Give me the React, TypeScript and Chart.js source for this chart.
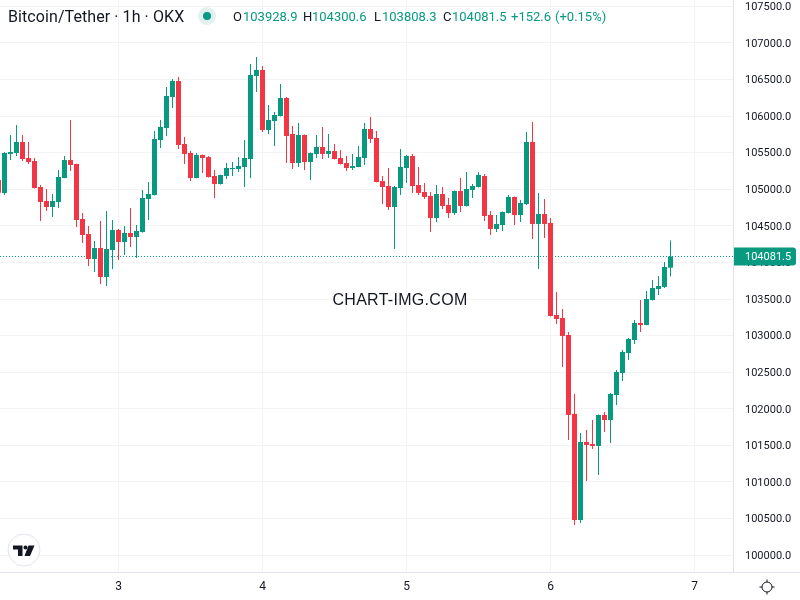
import React, { useEffect, useRef } from 'react';
import { Chart, registerables } from 'chart.js';

Chart.register(...registerables);

// hours since the start of day 3
const hours = [
  -20, -19, -18, -17, -16, -15, -14, -13, -12, -11, -10, -9, -8, -7, -6, -5, -4, -3, -2, -1,
  0, 1, 2, 3, 4, 5, 6, 7, 8, 9, 10, 11, 12, 13, 14, 15, 16, 17, 18, 19, 20, 21, 22, 23,
  24, 25, 26, 27, 28, 29, 30, 31, 32, 33, 34, 35, 36, 37, 38, 39, 40, 41, 42, 43, 44, 45, 46, 47,
  48, 49, 50, 51, 52, 53, 54, 55, 56, 57, 58, 59, 60, 61, 62, 63, 64, 65, 66, 67, 68, 69, 70, 71,
  72, 73, 74, 75, 76, 77, 78, 79, 80, 81, 82, 83, 84, 85, 86, 87, 88, 89, 90, 91, 92,
];

const opens = [
  105127, 104949, 105483, 105496, 105647, 105428, 105387, 105031, 104840, 104758, 104826, 105154, 105400, 105346, 104594, 104389, 104047, 104197, 103801, 104170,
  104443, 104279, 104403, 104348, 104416, 104867, 104922, 105674, 105838, 106262, 106480, 105619, 105496, 105154, 105469, 105441, 105182, 105072, 105182, 105277, 105277, 105305, 105414, 106549,
  106631, 105811, 105934, 106002, 106248, 105756, 105359, 105742, 105373, 105483, 105578, 105483, 105524, 105428, 105359, 105291, 105305, 105428, 105824, 105701, 105113, 105045, 104758, 105018,
  105291, 105455, 105059, 104963, 104909, 104608, 104936, 104786, 104676, 104977, 104772, 104991, 105032, 105182, 104649, 104457, 104512, 104676, 104895, 104649, 104799, 105647, 104526, 104662,
  104539, 103282, 103241, 103009, 101929, 100479, 101546, 101518, 101491, 101915, 101846, 102188, 102489, 102762, 102940, 103173, 103145, 103487, 103637, 103665, 103928.9,
];

const highs = [
  105150, 105510, 105742, 105879, 105742, 105647, 105428, 105059, 105004, 104936, 105264, 105455, 105947, 105350, 104676, 104498, 104293, 104567, 104703, 104580,
  104457, 104498, 104744, 104512, 104990, 105100, 105797, 105947, 106398, 106508, 106535, 105715, 105524, 105496, 105475, 105455, 105264, 105200, 105359, 105373, 105441, 105674, 106713, 106809,
  106686, 106152, 106057, 106439, 106262, 105865, 105906, 105748, 105502, 105742, 105852, 105756, 105619, 105537, 105455, 105483, 105592, 105906, 105988, 105797, 105182, 105291, 105045, 105551,
  105469, 105483, 105305, 105086, 104963, 105059, 105032, 104881, 104985, 105155, 105237, 105073, 105237, 105209, 104703, 104649, 104695, 104922, 104900, 104854, 105784, 105920, 104950, 104868,
  104608, 103596, 103364, 103050, 102202, 101669, 101710, 101846, 101920, 101956, 102216, 102530, 102803, 102968, 103214, 103487, 103610, 103760, 103815, 104007, 104300.6,
];

const lows = [
  104936, 104922, 105400, 105455, 105387, 105346, 105010, 104567, 104703, 104621, 104744, 105150, 105250, 104485, 104266, 103951, 103869, 103705, 103678, 103910,
  104033, 104102, 104211, 104061, 104410, 104580, 104915, 105565, 105729, 106111, 105551, 105346, 105113, 105150, 105223, 105160, 104881, 105065, 105141, 105182, 105236, 105031, 105154, 106330,
  105783, 105756, 105592, 105995, 105359, 105277, 105305, 105264, 105127, 105428, 105414, 105428, 105408, 105340, 105250, 105264, 105300, 105332, 105633, 105095, 104799, 104717, 104184, 104922,
  105086, 104950, 104922, 104868, 104416, 104553, 104731, 104608, 104649, 104690, 104765, 104881, 105025, 104567, 104375, 104416, 104430, 104670, 104512, 104553, 104786, 104321, 103911, 104334,
  103260, 103159, 102571, 101573, 100411, 100438, 101012, 101450, 101095, 101682, 101532, 102052, 102380, 102667, 102885, 103050, 103140, 103480, 103555, 103651, 103808.3,
];

const closes = [
  104954, 105496, 105510, 105647, 105414, 105373, 105018, 104826, 104758, 104840, 105168, 105400, 105332, 104580, 104375, 104047, 104197, 103801, 104184, 104443,
  104279, 104403, 104348, 104430, 104881, 104936, 105688, 105852, 106275, 106480, 105606, 105483, 105154, 105469, 105428, 105168, 105072, 105195, 105291, 105291, 105318, 105428, 106563, 106631,
  105811, 105947, 106016, 106248, 105729, 105359, 105742, 105373, 105496, 105578, 105483, 105524, 105414, 105346, 105291, 105318, 105441, 105824, 105688, 105100, 105031, 104758, 105032, 105305,
  105455, 105045, 104950, 104895, 104608, 104936, 104772, 104676, 104977, 104772, 105004, 105045, 105196, 104635, 104457, 104526, 104690, 104895, 104649, 104813, 105647, 104526, 104662, 104526,
  103268, 103227, 102995, 101915, 100479, 101546, 101505, 101491, 101915, 101846, 102202, 102503, 102776, 102954, 103173, 103145, 103501, 103651, 103678, 103938, 104081.5,
];

const priceTicks = [
  100000, 100500, 101000, 101500, 102000, 102500, 103000, 103500, 104000, 104500, 105000, 105500,
  106000, 106500, 107000, 107500,
];
const dayTickHours = [0, 24, 48, 72, 96];
const dayTickLabels = ['3', '4', '5', '6', '7'];

const GREEN = '#089981';
const RED = '#F23645';
const INK = '#131722';
const GRID = '#F3F3F4';
const AXIS_LINE = '#E0E3EB';
const FONT = 'Roboto, sans-serif';

const xMin = -19.75;
const xMax = 102.4167;
const lastClose = closes[closes.length - 1];

const candleColors = opens.map((o, i) => (closes[i] >= o ? GREEN : RED));

// header, watermark, price tag and the small corner widgets
const overlay = {
  id: 'overlay',
  afterDraw(chart: Chart) {
    const ctx = chart.ctx as any;
    const { chartArea } = chart;
    ctx.save();

    ctx.strokeStyle = AXIS_LINE;
    ctx.lineWidth = 1;
    ctx.beginPath();
    ctx.moveTo(chartArea.right + 1, chartArea.bottom + 0.5);
    ctx.lineTo(800, chartArea.bottom + 0.5);
    ctx.stroke();

    // title + status dot
    ctx.textBaseline = 'middle';
    ctx.textAlign = 'left';
    ctx.font = `16px ${FONT}`;
    ctx.letterSpacing = '0.08px';
    ctx.fillStyle = INK;
    ctx.fillText('Bitcoin/Tether · 1h · OKX', 8, 18);
    ctx.letterSpacing = '0px';
    ctx.fillStyle = 'rgba(8,153,129,0.13)';
    ctx.beginPath();
    ctx.arc(207, 16, 9, 0, Math.PI * 2);
    ctx.fill();
    ctx.fillStyle = GREEN;
    ctx.beginPath();
    ctx.arc(207, 16, 4, 0, Math.PI * 2);
    ctx.fill();

    // OHLC readout
    ctx.font = `13px ${FONT}`;
    const readout: [string, number, string][] = [
      ['O', 233, INK],
      ['103928.9', 243, GREEN],
      ['H', 303, INK],
      ['104300.6', 312, GREEN],
      ['L', 374, INK],
      ['103808.3', 382, GREEN],
      ['C', 443, INK],
      ['104081.5', 452, GREEN],
      ['+152.6', 511, GREEN],
      ['(+0.15%)', 555, GREEN],
    ];
    readout.forEach(([text, x, color]) => {
      ctx.fillStyle = color;
      ctx.fillText(text, x, 18);
    });

    // watermark
    ctx.fillStyle = INK;
    ctx.font = '16px "Liberation Sans", sans-serif';
    ctx.letterSpacing = '0.3px';
    ctx.textAlign = 'center';
    ctx.fillText('CHART-IMG.COM', 400, 301);
    ctx.letterSpacing = '0px';

    // last price tag
    const tagY = chart.scales.y.getPixelForValue(lastClose);
    ctx.fillStyle = GREEN;
    ctx.beginPath();
    ctx.roundRect(734, tagY - 9, 62, 18, [0, 3, 3, 0]);
    ctx.fill();
    ctx.fillStyle = '#FFFFFF';
    ctx.font = `11px ${FONT}`;
    ctx.textAlign = 'left';
    ctx.fillText(lastClose.toFixed(1), 745, tagY + 1);

    // logo badge
    ctx.fillStyle = '#FFFFFF';
    ctx.strokeStyle = AXIS_LINE;
    ctx.beginPath();
    ctx.arc(24, 550, 16, 0, Math.PI * 2);
    ctx.fill();
    ctx.stroke();
    ctx.fillStyle = INK;
    ctx.beginPath();
    ctx.moveTo(13, 545.5);
    ctx.lineTo(22.5, 545.5);
    ctx.lineTo(22.5, 556);
    ctx.lineTo(18, 556);
    ctx.lineTo(18, 549.5);
    ctx.lineTo(13, 549.5);
    ctx.closePath();
    ctx.fill();
    ctx.beginPath();
    ctx.arc(25.5, 547.5, 2, 0, Math.PI * 2);
    ctx.fill();
    ctx.beginPath();
    ctx.moveTo(28.5, 545.5);
    ctx.lineTo(34.5, 545.5);
    ctx.lineTo(30, 556);
    ctx.lineTo(24.5, 556);
    ctx.closePath();
    ctx.fill();

    // settings icon
    ctx.strokeStyle = INK;
    ctx.beginPath();
    ctx.arc(767, 587, 5, 0, Math.PI * 2);
    ctx.stroke();
    [0, 1, 2, 3].forEach((q) => {
      const a = (q * Math.PI) / 2;
      ctx.beginPath();
      ctx.moveTo(767 + Math.cos(a) * 5, 587 + Math.sin(a) * 5);
      ctx.lineTo(767 + Math.cos(a) * 7.5, 587 + Math.sin(a) * 7.5);
      ctx.stroke();
    });

    ctx.restore();
  },
};

const App: React.FC = () => {
  const chartRef = useRef<HTMLCanvasElement>(null);

  useEffect(() => {
    document.body.style.margin = '0';
    if (!chartRef.current) return;
    const ctx = chartRef.current.getContext('2d');
    if (!ctx) return;

    const myChart = new Chart(ctx, {
      type: 'bar',
      data: {
        datasets: [
          {
            type: 'line',
            label: 'last',
            data: [
              { x: xMin, y: lastClose },
              { x: xMax, y: lastClose },
            ],
            borderColor: GREEN,
            borderWidth: 1,
            borderDash: [1, 2],
            pointRadius: 0,
            order: 3,
          },
          {
            label: 'wick',
            data: hours.map((h, i) => ({ x: h, y: [lows[i], highs[i]] })),
            backgroundColor: candleColors,
            barThickness: 1,
            inflateAmount: 0,
            grouped: false,
            order: 2,
          },
          {
            label: 'body',
            data: hours.map((h, i) => ({ x: h, y: [opens[i], closes[i]] })),
            backgroundColor: candleColors,
            barThickness: 5,
            inflateAmount: 0,
            grouped: false,
            order: 1,
          },
        ] as any,
      },
      options: {
        responsive: false,
        animation: false,
        layout: { padding: 0 },
        plugins: {
          legend: { display: false },
          tooltip: { enabled: false },
        },
        scales: {
          x: {
            type: 'linear',
            min: xMin,
            max: xMax,
            offset: false,
            grid: { offset: false, color: GRID, drawTicks: false },
            border: { color: AXIS_LINE },
            afterBuildTicks: (axis: any) => {
              axis.ticks = dayTickHours.map((value) => ({ value }));
            },
            afterFit: (axis: any) => {
              axis.height = 28;
              axis.paddingLeft = 0;
              axis.paddingRight = 0;
            },
            ticks: {
              autoSkip: false,
              maxRotation: 0,
              padding: 8,
              color: INK,
              font: { family: FONT, size: 12 },
              callback: (v: any) => dayTickLabels[dayTickHours.indexOf(Number(v))] ?? '',
            },
          },
          y: {
            position: 'right',
            min: 99768.3,
            max: 107587.8,
            grid: { color: GRID, drawTicks: false },
            border: { color: AXIS_LINE },
            afterBuildTicks: (axis: any) => {
              axis.ticks = priceTicks.map((value) => ({ value }));
            },
            afterFit: (axis: any) => {
              axis.width = 67;
              axis.paddingTop = 0;
              axis.paddingBottom = 0;
            },
            ticks: {
              padding: 12,
              labelOffset: 1,
              color: INK,
              font: { family: FONT, size: 11 },
              callback: (v: any) => Number(v).toFixed(1),
            },
          },
        },
      },
      plugins: [overlay],
    } as any);

    return () => {
      myChart.destroy();
    };
  }, []);

  return <canvas ref={chartRef} width={800} height={600} style={{ display: 'block' }} />;
};

export default App;
